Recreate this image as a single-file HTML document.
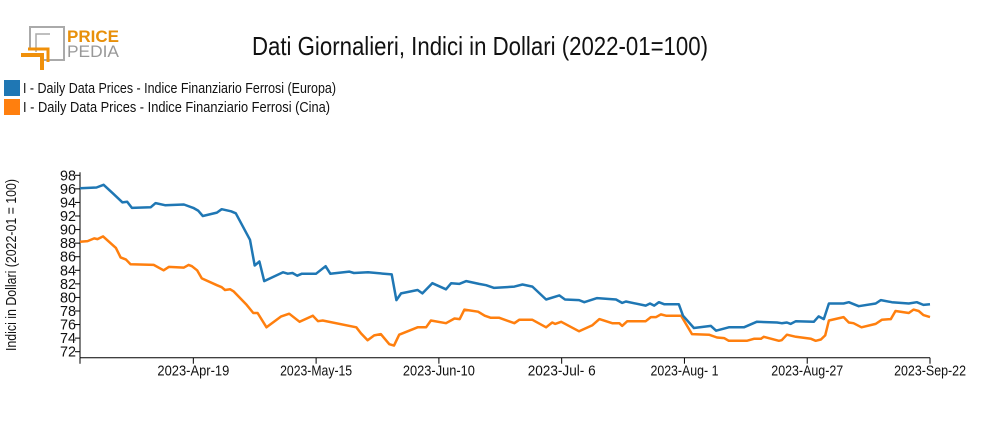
<!DOCTYPE html>
<html><head><meta charset="utf-8"><style>
body{margin:0;background:#fff;width:985px;height:430px;overflow:hidden}
svg text{font-family:"Liberation Sans",sans-serif}
</style></head><body>
<svg id="chart" width="985" height="430" xmlns="http://www.w3.org/2000/svg">
<g>
<path d="M30 48 V27 H64 V60 H44" fill="none" stroke="#aaa" stroke-width="2"/>
<path d="M36 52 V34 H50" fill="none" stroke="#aaa" stroke-width="1.5"/>
<path d="M21 55 H42 V70" fill="none" stroke="#f0900a" stroke-width="4"/>
<path d="M28 49 H48 V62" fill="none" stroke="#f0900a" stroke-width="3"/>
<text x="67" y="42" font-size="17" font-weight="bold" fill="#e8900a" textLength="52" lengthAdjust="spacingAndGlyphs">PRICE</text>
<text x="67" y="57" font-size="17" fill="#999" textLength="52" lengthAdjust="spacingAndGlyphs">PEDIA</text>
</g>
<text x="480" y="55" font-size="26" text-anchor="middle" textLength="456" lengthAdjust="spacingAndGlyphs" fill="#111">Dati Giornalieri, Indici in Dollari (2022-01=100)</text>
<g>
<g><rect x="4" y="80" width="16" height="16" fill="#1f77b4"/><text x="23" y="93" font-size="14.5" textLength="313" lengthAdjust="spacingAndGlyphs" fill="#111">I - Daily Data Prices - Indice Finanziario Ferrosi (Europa)</text></g>
<g><rect x="4" y="99" width="16" height="16" fill="#ff7f0e"/><text x="23" y="112" font-size="14.5" textLength="307" lengthAdjust="spacingAndGlyphs" fill="#111">I - Daily Data Prices - Indice Finanziario Ferrosi (Cina)</text></g>
</g>
<text transform="translate(16,265) rotate(-90)" font-size="14.5" text-anchor="middle" textLength="172" lengthAdjust="spacingAndGlyphs" fill="#111">Indici in Dollari (2022-01 = 100)</text>
<g id="yaxis"></g>
<g id="xaxis"></g>
<g id="series"></g>
</svg>
<script>
const yTicks=[72,74,76,78,80,82,84,86,88,90,92,94,96,98];
const xTickDays=[24,50,76,102,128,154,180];
const xTickLabels=["2023-Apr-19","2023-May-15","2023-Jun-10","2023-Jul- 6","2023-Aug- 1","2023-Aug-27","2023-Sep-22"];
const europaDays=[0,3.5,5,7,9,10,11,15,16,18,22,24,25,26,29,30,32,33,36,37,38,39,43,44,45,46,47,50,52,53,57,58,61,66,67,68,71.5,72.5,74.6,77.5,78.6,80.3,81.8,84.5,86,87.7,92,93.7,95.8,98.7,101.5,102.7,105.7,106.8,109.5,113.5,114.8,115.6,119.8,120.7,121.6,122.6,123.7,126.8,127.7,130,133.6,134.7,137.4,140.6,143.3,147.6,148.6,149.7,150.5,151.6,155.4,156.4,157.5,158.6,161.7,162.8,164.9,168.5,169.6,171.9,175.5,177.2,178.6,180];
const europaValues=[96.1,96.2,96.6,95.3,94.0,94.1,93.2,93.3,93.9,93.6,93.7,93.2,92.8,92.0,92.5,93.0,92.7,92.4,88.5,84.7,85.3,82.4,83.7,83.5,83.6,83.2,83.5,83.5,84.6,83.5,83.8,83.6,83.7,83.4,79.6,80.6,81.1,80.6,82.1,81.2,82.1,82.0,82.4,82.0,81.8,81.4,81.6,81.9,81.6,79.7,80.3,79.7,79.6,79.3,79.9,79.7,79.2,79.4,78.8,79.1,78.8,79.3,79.0,79.0,77.3,75.5,75.8,75.1,75.6,75.6,76.4,76.3,76.2,76.3,76.1,76.5,76.4,77.2,76.8,79.1,79.1,79.3,78.7,79.1,79.6,79.3,79.1,79.3,78.9,79.0];
const cinaDays=[0,1.6,3,3.7,4.9,7.6,8.6,9.7,10.7,15.6,17.7,18.8,22,23,23.7,24.8,25.8,29,30,30.7,31.8,32.5,35.3,36.7,37.6,39.5,42.6,44.3,46.5,49.3,50.4,51.4,58.5,59.5,60.9,62.3,63.7,65.5,66.5,67.6,71.5,73.3,74.3,77.5,79.3,80.4,81.4,84.3,85.7,87,88.8,92,93,95.8,98.7,100,100.6,101.9,105.7,108.5,110,112.7,114.2,114.8,115.9,119.8,120.9,122,123,124.1,127.3,129.6,133.2,134.9,136.4,137.4,141.2,142.7,144.2,144.8,148,148.6,149.7,151.6,154.8,155.8,156.9,157.8,158.6,161.7,162.8,163.8,165.5,168.5,169.8,171.7,172.7,175.5,176.5,177.6,178.6,180];
const cinaValues=[88.2,88.3,88.7,88.6,89.0,87.3,85.9,85.6,84.9,84.8,84.0,84.5,84.4,84.8,84.6,84.0,82.8,81.8,81.5,81.1,81.2,80.9,78.9,77.7,77.7,75.6,77.2,77.6,76.4,77.3,76.5,76.6,75.6,74.7,73.7,74.4,74.6,73.1,72.9,74.5,75.6,75.6,76.6,76.2,76.9,76.8,78.2,77.9,77.3,77.0,77.0,76.2,76.7,76.7,75.6,76.3,76.1,76.4,75.0,75.9,76.8,76.2,76.2,75.8,76.5,76.5,77.1,77.1,77.5,77.3,77.3,74.6,74.5,74.1,74.0,73.6,73.6,73.9,73.9,74.2,73.6,73.7,74.5,74.2,73.9,73.6,73.8,74.4,76.6,77.1,76.3,76.2,75.6,76.1,76.7,76.8,78.0,77.7,78.2,78.0,77.4,77.1];
const X0=80,X1=930,Y0=351.7,Y1=175.3,DMAX=180,VMIN=72,VMAX=98;
function xs(d){return X0+(X1-X0)*d/DMAX;}
function ys(v){return Y0-(Y0-Y1)*(v-VMIN)/(VMAX-VMIN);}
const NS="http://www.w3.org/2000/svg";
function mk(tag,attrs,parent){const e=document.createElementNS(NS,tag);for(const k in attrs)e.setAttribute(k,attrs[k]);parent.appendChild(e);return e;}
const ya=document.getElementById('yaxis'),xa=document.getElementById('xaxis'),sg=document.getElementById('series');
mk('line',{x1:X0,y1:Y1-3,x2:X0,y2:Y0+6,stroke:'#000'},ya);
yTicks.forEach(v=>{
  const t=mk('line',{x1:X0-5,x2:X0,y1:ys(v),y2:ys(v),stroke:'#000'},ya);
  
  
  const l=mk('text',{x:X0-4,y:ys(v)+5,'font-size':15,'text-anchor':'end',fill:'#111',textLength:16,lengthAdjust:'spacingAndGlyphs'},ya);
  
  
  l.textContent=v;
});
mk('line',{x1:X0,y1:Y0+6,x2:X1,y2:Y0+6,stroke:'#000'},xa);
mk('line',{x1:X0,y1:Y0+6,x2:X0,y2:Y0+12,stroke:'#000'},xa);
xTickDays.forEach((d,i)=>{
  const t=mk('line',{x1:xs(d),x2:xs(d),y1:Y0+6,y2:Y0+12,stroke:'#000'},xa);
  
  
  const last=i==xTickDays.length-1;
  const cx=last?xs(d)+36:xs(d);
  const l=mk('text',{x:0,y:0,'font-size':15,'text-anchor':last?'end':'middle',fill:'#111','xml:space':'preserve'},xa);
  
  
  l.textContent=xTickLabels[i];
  const w=l.getComputedTextLength()||85;
  const target=xTickLabels[i].indexOf(' ')>=0?68:72;
  l.setAttribute('transform','translate('+cx+','+(Y0+24)+') scale('+(target/w).toFixed(3)+',1)');
});
function line(days,vals,color,name){
  const p=mk('polyline',{points:days.map((d,i)=>xs(d).toFixed(1)+','+ys(vals[i]).toFixed(1)).join(' '),fill:'none',stroke:color,'stroke-width':2.5,'stroke-linejoin':'round'},sg);
  
  
}
line(cinaDays,cinaValues,'#ff7f0e','series-cina-line');
line(europaDays,europaValues,'#1f77b4','series-europa-line');
</script>
</body></html>
